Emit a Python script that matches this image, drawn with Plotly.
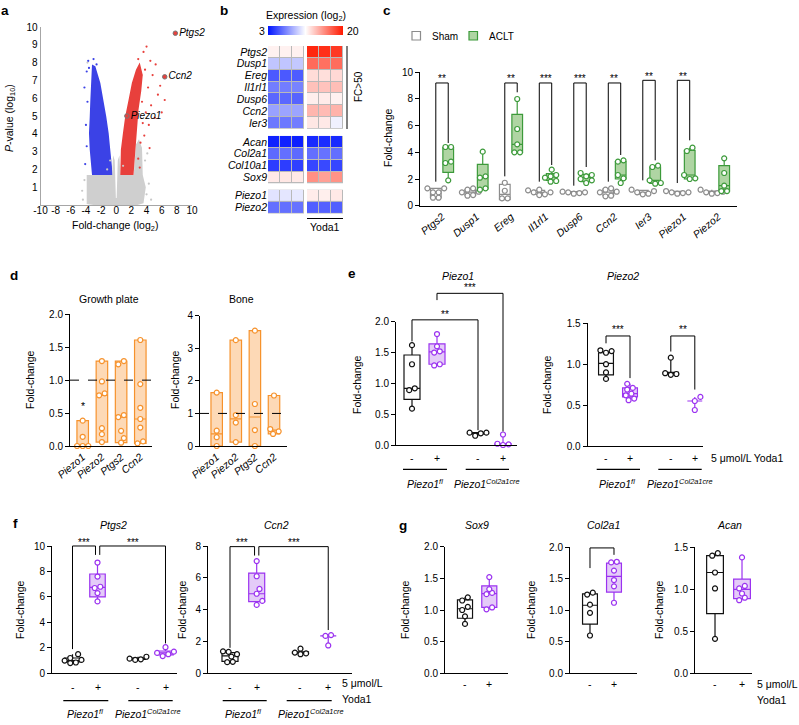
import numpy as np
import plotly.graph_objects as go

W, H = 799, 725
FONT = "Liberation Sans, Arial, Helvetica, sans-serif"

# ======================= DATA =======================
# ---- a: volcano plot (cloud outlines + sparse points, log2 FC / -log10 P) ----
grey_cloud_x = [-3.9, -3.9, -0.55, -0.42, -0.2, -0.05, 0.05, 0.2, 0.42, 0.55, 2.3, 2.6, 3.0, 3.4, 3.5, 3.9, 3.6, 2.8, -3.0, -3.9]
grey_cloud_y = [0.05, 1.69, 1.69, 2.8, 2.5, 0.4, 0.4, 2.5, 2.8, 1.69, 1.69, 3.4, 3.7, 3.2, 1.69, 1.0, 0.1, 0.0, 0.0, 0.05]
blue_cloud_x = [-3.2, -3.35, -3.42, -3.5, -3.6, -3.5, -3.33, -3.2, -0.53, -0.57, -0.79, -1.0, -1.32, -1.67, -2.1, -2.76]
blue_cloud_y = [7.9, 6.85, 5.9, 4.97, 4.03, 3.1, 2.16, 1.69, 1.69, 2.16, 3.1, 4.03, 4.97, 5.9, 6.85, 7.8]
red_cloud_x = [0.53, 0.61, 0.88, 1.18, 1.62, 2.06, 2.6, 3.1, 3.5, 3.3, 2.94, 2.72, 2.5, 2.28]
red_cloud_y = [1.69, 3.1, 4.03, 4.97, 5.9, 6.85, 7.6, 8.0, 7.3, 6.4, 5.35, 4.03, 3.1, 1.69]
red_sparse_x = [3.6, 4.0, 4.5, 5.2, 4.8, 5.8, 6.4, 5.5, 4.6, 3.9, 4.3, 3.5, 3.7, 3.2, 2.9, 3.1, 4.4, 5.1, 6.0, 3.3, 4.2, 2.9, 3.8, 3.4]
red_sparse_y = [8.6, 8.9, 8.1, 7.9, 7.3, 6.7, 5.9, 6.2, 5.6, 5.2, 4.5, 4.6, 3.9, 3.5, 2.6, 2.1, 3.2, 4.9, 5.2, 7.3, 6.6, 8.2, 7.6, 5.8]
blue_sparse_x = [-3.9, -4.2, -3.8, -4.0, -3.9, -4.1, -3.6, -3.7, -2.6, -3.0]
blue_sparse_y = [7.5, 6.6, 5.8, 4.5, 3.3, 2.3, 7.7, 8.1, 7.9, 8.2]
grey_sparse_x = [-3.8, -4.5, 4.0, 4.3, -4.2, 3.8, -0.8, 4.6, -4.4, 0.9, -1.2, 4.1]
grey_sparse_y = [8.0, 0.8, 0.6, 1.2, 1.4, 2.5, 2.5, 0.3, 0.3, 2.2, 2.0, 2.9]
lab_genes = ["Ptgs2", "Ccn2", "Piezo1"]
lab_fc = [7.8, 6.4, 1.4]
lab_p = [9.65, 7.2, 5.0]
a_xticks = list(range(-10, 11, 2))
a_yticks = list(range(1, 11))

# ---- b: heatmap (log2 expression) ----
b_genes = ["Ptgs2", "Dusp1", "Ereg", "Il1rl1", "Dusp6", "Ccn2", "Ier3",
           "Acan", "Col2a1", "Col10a1", "Sox9", "Piezo1", "Piezo2"]
b_control = [[12.0, 12.0, 12.0], [9.4, 9.4, 9.5], [5.5, 5.5, 5.6], [6.8, 6.8, 7.0], [6.0, 6.0, 5.9],
             [8.1, 8.2, 8.2], [6.6, 6.6, 6.8], [3.5, 3.5, 3.4], [6.1, 6.3, 6.1], [4.5, 4.5, 4.6],
             [12.3, 12.4, 12.3], [10.5, 10.6, 10.7], [6.3, 6.3, 6.4]]
b_yoda = [[19.5, 19.2, 18.8], [17.0, 16.8, 16.9], [12.8, 12.7, 12.9], [13.8, 13.7, 13.9], [12.1, 12.2, 12.0],
          [14.2, 14.0, 14.3], [12.4, 12.3, 11.0], [3.8, 3.9, 3.8], [6.3, 6.4, 6.3], [4.8, 4.9, 4.8],
          [15.6, 15.0, 15.5], [12.2, 12.1, 12.3], [5.7, 5.8, 5.7]]

# ---- c: Sham vs ACLT fold change ----
c_genes = ["Ptgs2", "Dusp1", "Ereg", "Il1rl1", "Dusp6", "Ccn2", "Ier3", "Piezo1", "Piezo2"]
c_sham = [[0.6, 0.6, 1.0, 1.0, 1.3, 1.3], [0.75, 0.8, 1.0, 1.05, 1.2, 1.3], [0.55, 0.55, 1.12, 1.72],
          [0.8, 0.85, 1.0, 1.0, 1.15, 1.2], [0.9, 0.95, 1.0, 1.0, 1.05], [0.7, 0.75, 1.0, 1.05, 1.2, 1.3],
          [0.85, 0.9, 1.0, 1.1, 1.2], [0.9, 0.95, 1.0, 1.0, 1.1], [0.9, 0.95, 1.0, 1.05, 1.2]]
c_aclt = [[1.9, 3.2, 3.3, 4.4, 4.4], [1.2, 1.3, 2.1, 2.2, 4.05], [4.0, 4.0, 4.6, 5.75, 8.0],
          [1.8, 1.85, 2.1, 2.2, 2.3, 2.7], [1.7, 1.9, 2.0, 2.2, 2.3, 2.45], [1.7, 2.05, 2.3, 3.3, 3.4],
          [1.65, 1.7, 1.9, 2.9, 3.0], [2.0, 2.05, 2.3, 4.1, 4.35], [1.1, 1.1, 1.5, 2.45, 3.55]]
c_sham_box = [[0.6, 1.0, 1.3], [0.8, 1.02, 1.2], [0.45, 0.85, 1.6], [0.85, 1.0, 1.15], [0.92, 1.0, 1.05],
              [0.75, 1.02, 1.25], [0.87, 1.0, 1.15], [0.92, 1.0, 1.07], [0.92, 1.0, 1.1]]
c_aclt_box = [[2.5, 3.25, 4.35], [1.25, 2.1, 3.1], [4.0, 4.6, 6.85], [1.9, 2.15, 2.4], [1.8, 2.1, 2.35],
              [2.0, 2.3, 3.3], [1.68, 1.9, 2.9], [2.0, 2.3, 4.15], [1.1, 1.5, 3.0]]
c_sig = ["**", "", "**", "***", "***", "**", "**", "**", ""]
c_sig_top = [9.2, 0, 9.2, 9.2, 9.2, 9.2, 9.4, 9.4, 0]
c_sig_left = [1.8, 0, 2.2, 1.8, 1.5, 1.8, 1.9, 1.7, 0]
c_sig_right = [4.7, 0, 8.5, 3.05, 2.9, 3.8, 3.4, 4.9, 0]

# ---- d: floating bars (min-max, line at median) ----
d_genes = ["Piezo1", "Piezo2", "Ptgs2", "Ccn2"]
d_growth = [[0.0, 0.0, 0.0, 0.14, 0.385], [0.06, 0.18, 0.27, 0.77, 0.80, 0.98, 1.29],
            [0.05, 0.12, 0.23, 0.44, 0.47, 1.24, 1.29], [0.04, 0.07, 0.28, 0.41, 0.58, 0.94, 1.61]]
d_bone = [[0.0, 0.27, 0.47, 1.64], [0.12, 0.72, 0.95, 3.25], [0.0, 0.49, 1.29, 3.54], [0.37, 0.45, 0.52, 1.55]]

# ---- e: Piezo1 / Piezo2 (fl -, fl +, cre -, cre +) ----
e_piezo1 = [[0.59, 0.89, 0.92, 1.31, 1.62], [1.29, 1.31, 1.5, 1.52, 1.6, 1.8], [0.15, 0.19, 0.2, 0.2], [0.0, 0.01, 0.02, 0.17]]
e_piezo1_box = [[0.74, 0.92, 1.46], [1.31, 1.51, 1.64], [0.18, 0.19, 0.2], [0.01, 0.02, 0.02]]
e_piezo2 = [[0.82, 0.9, 1.0, 1.14, 1.16, 1.17], [0.56, 0.58, 0.62, 0.64, 0.69, 0.71, 0.76], [0.87, 0.88, 0.89, 1.08], [0.44, 0.55, 0.6]]
e_piezo2_box = [[0.87, 1.01, 1.14], [0.6, 0.64, 0.71], [0.88, 0.89, 0.9], [0.55, 0.55, 0.55]]

# ---- f: Ptgs2 / Ccn2 ----
f_ptgs2 = [[0.8, 0.85, 1.0, 1.05, 1.2, 1.5], [5.65, 6.3, 6.7, 6.8, 7.6, 8.7], [1.05, 1.1, 1.15, 1.3], [1.35, 1.5, 1.6, 1.7, 2.05]]
f_ptgs2_box = [[0.9, 1.0, 1.2], [6.0, 6.75, 7.8], [1.1, 1.15, 1.2], [1.45, 1.6, 1.75]]
f_ccn2 = [[0.7, 0.72, 1.05, 1.2, 1.35, 1.38], [4.3, 4.55, 5.0, 5.3, 6.1, 7.05], [1.2, 1.25, 1.3, 1.55], [1.75, 2.35, 2.4]]
f_ccn2_box = [[0.75, 1.1, 1.3], [4.5, 5.0, 6.3], [1.25, 1.3, 1.35], [2.35, 2.35, 2.35]]

# ---- g: Sox9 / Col2a1 / Acan (-, +) ----
g_sox9 = [[0.78, 0.9, 1.0, 1.05, 1.15, 1.2], [1.01, 1.04, 1.25, 1.27, 1.33, 1.52]]
g_sox9_box = [[0.87, 1.02, 1.16], [1.04, 1.26, 1.38]]
g_col2a1 = [[0.6, 0.96, 1.09, 1.25, 1.28], [1.12, 1.38, 1.48, 1.63, 1.76, 1.77]]
g_col2a1_box = [[0.78, 1.08, 1.26], [1.29, 1.54, 1.75]]
g_acan = [[0.41, 1.01, 1.2, 1.4, 1.43], [0.87, 0.9, 0.95, 1.01, 1.04, 1.38]]
g_acan_box = [[0.71, 1.2, 1.4], [0.89, 1.0, 1.12]]

# ======================= STYLE =======================
BLACK = "#111111"
PURPLE = "#9b32f0"
PURPLE_FILL = "#e4cbf8"
GREEN = "#3c9a3a"
GREEN_FILL = "#afd5a3"
GREY = "#8c8c8c"
ORANGE = "#f6922c"
ORANGE_FILL = "#fdd9b6"

fig = go.Figure()
layout_axes = {}
AX = {}
shapes = []
anns = []


def new_axes(name, x0, x1, ytop, ybot, xr, yr, xkw=None, ykw=None):
    n = len(AX) + 1
    xa, ya = ("xaxis", "yaxis") if n == 1 else (f"xaxis{n}", f"yaxis{n}")
    xid, yid = ("x", "y") if n == 1 else (f"x{n}", f"y{n}")
    base = dict(showgrid=False, zeroline=False, fixedrange=True, automargin=False)
    layout_axes[xa] = dict(base, domain=[x0 / W, x1 / W], range=xr, anchor=yid, **(xkw or {}))
    layout_axes[ya] = dict(base, domain=[1 - ybot / H, 1 - ytop / H], range=yr, anchor=xid, **(ykw or {}))
    AX[name] = dict(x=xid, y=yid, x0=x0, x1=x1, ytop=ytop, ybot=ybot, xr=xr, yr=yr)
    return AX[name]


def to_px(ax, xv, yv):
    xp = ax["x0"] + (xv - ax["xr"][0]) / (ax["xr"][1] - ax["xr"][0]) * (ax["x1"] - ax["x0"])
    yp = ax["ybot"] - (yv - ax["yr"][0]) / (ax["yr"][1] - ax["yr"][0]) * (ax["ybot"] - ax["ytop"])
    return xp, yp


def text(t, x, y, size=10, xa="center", ya="middle", angle=0, color="black"):
    anns.append(dict(text=t, x=x / W, y=1 - y / H, xref="paper", yref="paper", xanchor=xa, yanchor=ya,
                     textangle=angle, showarrow=False, font=dict(size=size, color=color, family=FONT)))


def seg(xa_, ya_, xb, yb, color="black", width=1, dash=None):
    shapes.append(dict(type="line", xref="paper", yref="paper", x0=xa_ / W, x1=xb / W, y0=1 - ya_ / H,
                       y1=1 - yb / H, line=dict(color=color, width=width, dash=dash)))


def bracket(ax, xl, xr_, ytop, yl, yr_, stars, ystar):
    p = [to_px(ax, xl, yl), to_px(ax, xl, ytop), to_px(ax, xr_, ytop), to_px(ax, xr_, yr_)]
    path = "M " + " L ".join(f"{a / W:.5f},{1 - b / H:.5f}" for a, b in p)
    shapes.append(dict(type="path", xref="paper", yref="paper", path=path, line=dict(color="black", width=1)))
    if stars:
        xm = (p[1][0] + p[2][0]) / 2
        ys = to_px(ax, 0, ystar)[1]
        text(stars, xm, ys + 2.5, size=10)


def swarm(vals, pos, ax, d=5.6):
    ux = (ax["x1"] - ax["x0"]) / (ax["xr"][1] - ax["xr"][0])
    uy = (ax["ybot"] - ax["ytop"]) / abs(ax["yr"][1] - ax["yr"][0])
    placed = []
    offs = [0.0] * len(vals)
    for i in sorted(range(len(vals)), key=lambda k: vals[k]):
        ypx = vals[i] * uy
        off = 0.0
        for m in range(0, 30):
            off = (0 if m == 0 else ((m + 1) // 2) * (1 if m % 2 else -1)) * d * 0.5
            if all((off - ox) ** 2 + (ypx - oy) ** 2 >= (0.9 * d) ** 2 for ox, oy in placed):
                break
        placed.append((off, ypx))
        offs[i] = off
    order = sorted(range(len(vals)), key=lambda k: vals[k])
    groups, cur = [], [order[0]]
    for k in order[1:]:
        if (vals[k] - vals[cur[-1]]) * uy < 0.6 * d:
            cur.append(k)
        else:
            groups.append(cur)
            cur = [k]
    groups.append(cur)
    for g in groups:
        if len(g) > 1:
            mean = sum(offs[k] for k in g) / len(g)
            for k in g:
                offs[k] -= mean
    return [pos + o / ux for o in offs]


def box(ax, pos, vals, stats, col, fill, width):
    q1, med, q3 = stats
    fig.add_trace(go.Box(x=[pos], q1=[q1], median=[med], q3=[q3], lowerfence=[min(vals)], upperfence=[max(vals)],
                         width=width, whiskerwidth=0, line=dict(color=col, width=1.2), fillcolor=fill,
                         boxpoints=False, xaxis=ax["x"], yaxis=ax["y"], showlegend=False, hoverinfo="skip"))
    fig.add_trace(go.Scatter(x=swarm(vals, pos, ax), y=vals, mode="markers", cliponaxis=False,
                             marker=dict(symbol="circle", size=5, color="white", line=dict(color=col, width=1.2)),
                             xaxis=ax["x"], yaxis=ax["y"], showlegend=False, hoverinfo="skip"))


BOX_Y = dict(showline=True, linecolor="black", linewidth=1, ticks="outside", ticklen=4, tickwidth=1,
             tickcolor="black", tickfont=dict(size=10, family=FONT, color="black"))
BOX_X = dict(showline=True, linecolor="black", linewidth=1, ticks="", showticklabels=False)


def fmt(v, dec):
    return f"{v:.{dec}f}"


# ======================= PANEL a =======================
axA = new_axes("a", 40.5, 192, 27, 205, [-10, 10], [0, 10],
               xkw=dict(showline=True, linecolor="#a6a6a6", ticks="", tickvals=a_xticks,
                        ticktext=[str(v) for v in a_xticks], tickangle=0, ticklabelstandoff=-4,
                        tickfont=dict(size=10, color="black")),
               ykw=dict(showline=True, linecolor="#a6a6a6", ticks="", tickvals=a_yticks,
                        ticktext=[str(v) for v in a_yticks], tickfont=dict(size=10, color="black")))
for cx, cy, col in [(grey_cloud_x, grey_cloud_y, "#cfcfcf"), (blue_cloud_x, blue_cloud_y, "#3b42e6"),
                    (red_cloud_x, red_cloud_y, "#e8403c")]:
    fig.add_trace(go.Scatter(x=cx, y=cy, fill="toself", fillcolor=col, mode="lines", line=dict(width=0, color=col),
                             xaxis=axA["x"], yaxis=axA["y"], showlegend=False, hoverinfo="skip"))
for sx, sy, col in [(grey_sparse_x, grey_sparse_y, "#c8c8c8"), (blue_sparse_x, blue_sparse_y, "#3b42e6"),
                    (red_sparse_x, red_sparse_y, "#e8403c")]:
    fig.add_trace(go.Scatter(x=sx, y=sy, mode="markers", marker=dict(size=2.2, color=col),
                             xaxis=axA["x"], yaxis=axA["y"], showlegend=False, hoverinfo="skip"))
fig.add_trace(go.Scatter(x=lab_fc, y=lab_p, mode="markers+text", text=[f"<i>{g}</i>" for g in lab_genes],
                         textposition="middle right", textfont=dict(size=10, family=FONT, color="black"),
                         cliponaxis=False,
                         marker=dict(size=4.5, color="#e8403c", line=dict(color="#777777", width=1)),
                         xaxis=axA["x"], yaxis=axA["y"], showlegend=False, hoverinfo="skip"))
text("<i>P</i>-value (log<sub>10</sub>)", 10, 118, size=10.5, angle=-90)
text("Fold-change (log<sub>2</sub>)", 115, 226, size=10.5)
text("<b>a</b>", 5, 10, size=13.5)

# ======================= PANEL b =======================
row_pos = [0, 1, 2, 3, 4, 5, 6, 7.6, 8.6, 9.6, 10.6, 12.15, 13.15]
blocks = [(0, 7), (7, 11), (11, 13)]
col_ctrl = [0, 1, 2]
col_yoda = [3.25, 4.25, 5.25]
axB = new_axes("b", 268, 343, 46, 213.5, [-0.5, 5.75], [13.65, -0.5],
               xkw=dict(visible=False),
               ykw=dict(showline=False, ticks="", tickvals=row_pos, ticktext=[f"<i>{g}</i>" for g in b_genes],
                        tickfont=dict(size=10.5, family=FONT, color="black")))
for (s, e) in blocks:
    for cols, vals in [(col_ctrl, b_control), (col_yoda, b_yoda)]:
        fig.add_trace(go.Heatmap(x=cols, y=row_pos[s:e], z=vals[s:e], coloraxis="coloraxis", xgap=1, ygap=1,
                                 xaxis=axB["x"], yaxis=axB["y"], hoverinfo="skip"))
        x0p, _ = to_px(axB, cols[0] - 0.5, 0)
        x1p, _ = to_px(axB, cols[-1] + 0.5, 0)
        _, y0p = to_px(axB, 0, row_pos[s] - 0.5)
        _, y1p = to_px(axB, 0, row_pos[e - 1] + 0.5)
        shapes.append(dict(type="rect", xref="paper", yref="paper", layer="below", x0=x0p / W, x1=x1p / W,
                           y0=1 - y0p / H, y1=1 - y1p / H, fillcolor="#b9b9b9", line=dict(width=0)))
text("Expression (log<sub>2</sub>)", 306, 16, size=10.5)
text("3", 262, 31, size=10.5)
text("20", 352.5, 31, size=10.5)
seg(347, 46, 347, 129)
text("FC>50", 358, 87, size=10, angle=-90)
seg(307, 218.5, 343, 218.5)
text("Yoda1", 325, 227, size=10.5)
text("<b>b</b>", 224, 10, size=13.5)

# ======================= PANEL c =======================
axC = new_axes("c", 420, 737, 72.3, 205.7, [-0.638, 8.551], [0, 10],
               xkw=dict(BOX_X, showticklabels=True, tickvals=list(range(9)),
                        ticktext=[f"<i>{g}</i>" for g in c_genes], tickangle=-40,
                        tickfont=dict(size=10.5, family=FONT, color="black")),
               ykw=dict(BOX_Y, tickvals=[0, 2, 4, 6, 8, 10]))
for i in range(9):
    box(axC, i - 0.18, c_sham[i], c_sham_box[i], GREY, "white", 0.31)
    box(axC, i + 0.18, c_aclt[i], c_aclt_box[i], GREEN, GREEN_FILL, 0.31)
    if c_sig[i]:
        bracket(axC, i - 0.18, i + 0.18, c_sig_top[i], c_sig_left[i], c_sig_right[i], c_sig[i], c_sig_top[i] + 0.5)
text("Fold-change", 388, 138, size=10.5, angle=-90)
shapes.append(dict(type="rect", xref="paper", yref="paper", x0=412 / W, x1=420.5 / W, y0=1 - 40 / H, y1=1 - 31.5 / H,
                   fillcolor="white", line=dict(color=GREY, width=1.2)))
text("Sham", 430, 36, size=10, xa="left")
shapes.append(dict(type="rect", xref="paper", yref="paper", x0=469 / W, x1=477.5 / W, y0=1 - 40 / H, y1=1 - 31.5 / H,
                   fillcolor=GREEN_FILL, line=dict(color=GREEN, width=1.2)))
text("ACLT", 487, 36, size=10, xa="left")
text("<b>c</b>", 387, 10, size=13.5)

# ======================= PANEL d =======================
axDG = new_axes("dg", 70, 152, 314.3, 446, [-0.661, 3.609], [0, 2],
                xkw=dict(BOX_X, showticklabels=True, tickvals=[0, 1, 2, 3],
                         ticktext=[f"<i>{g}</i>" for g in d_genes], tickangle=-40,
                         tickfont=dict(size=10.5, family=FONT, color="black")),
                ykw=dict(BOX_Y, tickvals=[0, 0.5, 1, 1.5, 2], ticktext=[fmt(v, 1) for v in [0, 0.5, 1, 1.5, 2]]))
axDB = new_axes("db", 200, 286.7, 315.7, 446, [-0.874, 3.665], [0, 4],
                xkw=dict(BOX_X, showticklabels=True, tickvals=[0, 1, 2, 3],
                         ticktext=[f"<i>{g}</i>" for g in d_genes], tickangle=-40,
                         tickfont=dict(size=10.5, family=FONT, color="black")),
                ykw=dict(BOX_Y, tickvals=[0, 1, 2, 3, 4]))
for ax, data in [(axDG, d_growth), (axDB, d_bone)]:
    for i, vals in enumerate(data):
        box(ax, i, vals, [min(vals), float(np.median(vals)), max(vals)], ORANGE, ORANGE_FILL, 0.6)
    xa_, ya_ = to_px(ax, ax["xr"][0], 1.0)
    xb_, _ = to_px(ax, ax["xr"][1], 1.0)
    seg(xa_, ya_, xb_, ya_, color="black", width=1, dash="dash")
xs_, ys_ = to_px(axDG, 0, 0.66)
text("*", xs_, ys_ + 3, size=10.5)
text("Growth plate", 109, 299, size=10.5)
text("Bone", 241, 299, size=10.5)
text("Fold-change", 30, 380, size=10.5, angle=-90)
text("Fold-change", 175, 380, size=10.5, angle=-90)
text("<b>d</b>", 14, 276, size=13.5)


def treat_panel(ax, positions, data, stats, width, sign_y):
    for k, (pos, vals, st) in enumerate(zip(positions, data, stats)):
        plus = k % 2 == 1
        box(ax, pos, vals, st, PURPLE if plus else BLACK, PURPLE_FILL if plus else "white", width)
        xp, _ = to_px(ax, pos, 0)
        text("+" if plus else "-", xp, sign_y, size=10.5)


FL = "<i>Piezo1<sup>fl</sup></i>"
CRE = "<i>Piezo1<sup>Col2a1cre</sup></i>"

# ======================= PANEL e =======================
axE1 = new_axes("e1", 396, 517, 321.7, 445, [-0.64, 4.2], [0, 2],
                xkw=BOX_X, ykw=dict(BOX_Y, tickvals=[0, 0.5, 1, 1.5, 2], ticktext=[fmt(v, 1) for v in [0, 0.5, 1, 1.5, 2]]))
treat_panel(axE1, [0, 1, 2.64, 3.64], e_piezo1, e_piezo1_box, 0.64, 457.7)
bracket(axE1, 0, 2.64, 2.03, 1.68, 0.24, "**", 2.16)
bracket(axE1, 1, 3.64, 2.46, 2.35, 0.22, "***", 2.6)
seg(403, 469.3, 447, 469.3, width=1.3)
seg(465.7, 469.3, 509, 469.3, width=1.3)
text(FL, 425, 484, size=10.5)
text(CRE, 486.7, 484, size=10.5)
text("Fold-change", 357, 385, size=10.5, angle=-90)
text("<i>Piezo1</i>", 458, 276, size=10.5)

axE2 = new_axes("e2", 587.7, 703.3, 323.3, 446, [-0.7625, 4.054], [0, 1.5],
                xkw=BOX_X, ykw=dict(BOX_Y, tickvals=[0, 0.5, 1, 1.5], ticktext=[fmt(v, 1) for v in [0, 0.5, 1, 1.5]]))
treat_panel(axE2, [0, 1, 2.7, 3.7], e_piezo2, e_piezo2_box, 0.62, 457.7)
bracket(axE2, 0, 1, 1.345, 1.255, 0.83, "***", 1.46)
bracket(axE2, 2.7, 3.7, 1.345, 1.155, 0.69, "**", 1.46)
seg(596.7, 469.3, 640, 469.3, width=1.3)
seg(658.3, 469.3, 701.7, 469.3, width=1.3)
text(FL, 616.7, 484, size=10.5)
text(CRE, 680, 484, size=10.5)
text("5 \u03bcmol/L Yoda1", 709, 457.7, size=10.5, xa="left")
text("Fold-change", 547, 385, size=10.5, angle=-90)
text("<i>Piezo2</i>", 623, 276, size=10.5)
text("<b>e</b>", 352, 273, size=13.5)

# ======================= PANEL f =======================
axF1 = new_axes("f1", 52, 177, 546, 673.3, [-0.82, 4.18], [0, 10],
                xkw=BOX_X, ykw=dict(BOX_Y, tickvals=[0, 2, 4, 6, 8, 10]))
treat_panel(axF1, [0, 1, 2.62, 3.72], f_ptgs2, f_ptgs2_box, 0.62, 686.7)
bracket(axF1, 0, 0.92, 10.0, 1.9, 9.3, "***", 10.47)
bracket(axF1, 1.09, 3.72, 10.0, 9.3, 2.35, "***", 10.47)
seg(63.3, 700.7, 108.3, 700.7, width=1.3)
seg(128.3, 700.7, 172.7, 700.7, width=1.3)
text(FL, 85, 713, size=10.5)
text(CRE, 148.3, 713, size=10.5)
text("Fold-change", 20, 610, size=10.5, angle=-90)
text("<i>Ptgs2</i>", 113, 525, size=10.5)

axF2 = new_axes("f2", 208, 352, 546, 673.3, [-0.824, 4.57], [0, 8],
                xkw=BOX_X, ykw=dict(BOX_Y, tickvals=[0, 2, 4, 6, 8]))
treat_panel(axF2, [0, 1, 2.64, 3.68], f_ccn2, f_ccn2_box, 0.6, 686.7)
bracket(axF2, 0, 0.92, 7.96, 1.6, 7.4, "***", 8.38)
bracket(axF2, 1.08, 3.68, 7.96, 7.4, 2.72, "***", 8.38)
seg(222.7, 700.7, 266.7, 700.7, width=1.3)
seg(286.7, 700.7, 331.7, 700.7, width=1.3)
text(FL, 243.3, 713, size=10.5)
text(CRE, 311, 713, size=10.5)
text("5 \u03bcmol/L", 340, 683, size=10.5, xa="left")
text("Yoda1", 340, 698.5, size=10.5, xa="left")
text("Fold-change", 182, 610, size=10.5, angle=-90)
text("<i>Ccn2</i>", 276, 525, size=10.5)
text("<b>f</b>", 15, 523, size=13.5)

# ======================= PANEL g =======================
tk2 = [0, 0.5, 1, 1.5, 2]
axG1 = new_axes("g1", 445, 508, 546.7, 673.3, [-0.823, 1.77], [0, 2],
                xkw=BOX_X, ykw=dict(BOX_Y, tickvals=tk2, ticktext=[fmt(v, 1) for v in tk2]))
treat_panel(axG1, [0, 1], g_sox9, g_sox9_box, 0.62, 684)
text("Fold-change", 405, 610, size=10.5, angle=-90)
text("<i>Sox9</i>", 477, 525, size=10.5)

axG2 = new_axes("g2", 570, 636.7, 547.3, 673.3, [-0.833, 1.946], [0, 2],
                xkw=BOX_X, ykw=dict(BOX_Y, tickvals=tk2, ticktext=[fmt(v, 1) for v in tk2]))
treat_panel(axG2, [0, 1], g_col2a1, g_col2a1_box, 0.62, 684)
bracket(axG2, 0, 1, 1.99, 1.67, 1.88, "", 0)
text("Fold-change", 531, 610, size=10.5, angle=-90)
text("<i>Col2a1</i>", 603, 525, size=10.5)

tk3 = [0, 0.5, 1, 1.5]
axG3 = new_axes("g3", 695, 752, 547.3, 673.3, [-0.741, 1.37], [0, 1.5],
                xkw=BOX_X, ykw=dict(BOX_Y, tickvals=tk3, ticktext=[fmt(v, 1) for v in tk3]))
treat_panel(axG3, [0, 1], g_acan, g_acan_box, 0.62, 684)
text("5 \u03bcmol/L", 755, 684, size=10.5, xa="left")
text("Yoda1", 755, 700, size=10.5, xa="left")
text("Fold-change", 659, 610, size=10.5, angle=-90)
text("<i>Acan</i>", 729, 525, size=10.5)
text("<b>g</b>", 403, 525, size=13.5)

# ======================= LAYOUT =======================
fig.update_layout(template="none")
fig.update_layout(layout_axes)
fig.update_layout(
    width=W, height=H, autosize=False,
    margin=dict(l=0, r=0, t=0, b=0, pad=0, autoexpand=False),
    paper_bgcolor="white", plot_bgcolor="rgba(0,0,0,0)",
    font=dict(family=FONT, size=10, color="black"),
    showlegend=False, boxmode="overlay",
    coloraxis=dict(cmin=3, cmax=20,
                   colorscale=[[0, "rgb(0,20,255)"], [0.5, "rgb(255,255,255)"], [1, "rgb(255,25,0)"]],
                   colorbar=dict(orientation="h", x=305.5 / W, xanchor="center", y=1 - 26 / H, yanchor="top",
                                 len=75, lenmode="pixels", thickness=9, thicknessmode="pixels",
                                 showticklabels=False, ticks="", outlinewidth=0, xpad=0, ypad=0)),
    shapes=shapes, annotations=anns,
)
fig.write_html("out.html", config={"displayModeBar": False, "staticPlot": True},
               post_script="document.body.style.margin='0';document.body.style.padding='0';"
                           "document.documentElement.style.overflow='hidden';")
